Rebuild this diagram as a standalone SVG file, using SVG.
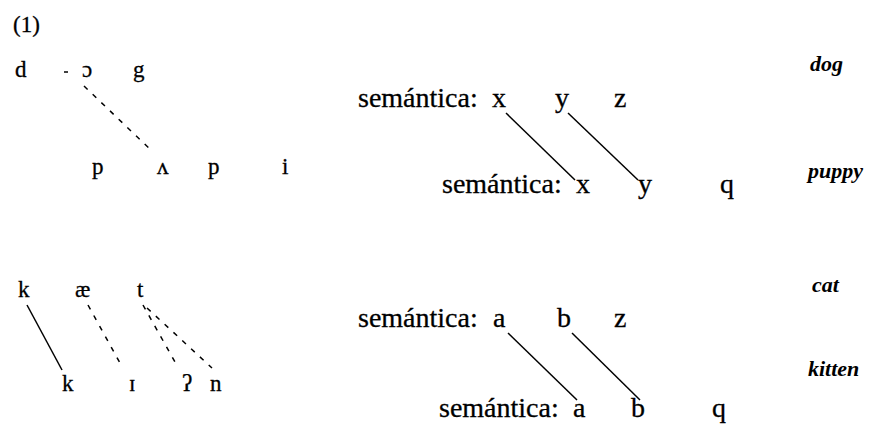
<svg xmlns="http://www.w3.org/2000/svg" width="877" height="426" viewBox="0 0 877 426">
<style>
.t{font-family:"Liberation Serif","DejaVu Serif",serif;font-size:23px;fill:#000;stroke:#000;stroke-width:0.3}
.sem{font-size:28px}
.gl{font-style:italic;font-weight:bold;font-size:22px;stroke-width:0}
.ln{stroke:#000;stroke-width:1.5;fill:none}
.ds{stroke-dasharray:5 7}
</style>
<rect width="877" height="426" fill="#fff"/>
<text id="label" class="t" x="13" y="32" font-size="22" stroke-width="0">(1)</text>
<g id="dog-phon" class="t">
<text x="15" y="77">d</text><text x="82" y="77">ɔ</text><text x="133" y="77">g</text>
</g>
<g id="puppy-phon" class="t">
<text x="92" y="174">p</text><text x="157" y="174">ʌ</text><text x="208" y="174">p</text><text x="282" y="174">i</text>
</g>
<g id="cat-phon" class="t">
<text x="18" y="297">k</text><text x="75" y="297">æ</text><text x="137" y="297">t</text>
</g>
<g id="kitten-phon" class="t">
<text x="62" y="391">k</text><text x="129" y="391">ɪ</text><text x="182" y="391">ʔ</text><text x="210" y="391">n</text>
</g>
<g id="sem-dog" class="t sem">
<text x="358" y="107">semántica:</text><text x="492" y="107">x</text><text x="555" y="107">y</text><text x="614" y="107">z</text>
</g>
<g id="sem-puppy" class="t sem">
<text x="442" y="193">semántica:</text><text x="576" y="193">x</text><text x="638" y="193">y</text><text x="720" y="193">q</text>
</g>
<g id="sem-cat" class="t sem">
<text x="358" y="327">semántica:</text><text x="493" y="327">a</text><text x="557" y="327">b</text><text x="614" y="327">z</text>
</g>
<g id="sem-kitten" class="t sem">
<text x="439" y="417">semántica:</text><text x="573" y="417">a</text><text x="631" y="417">b</text><text x="712" y="417">q</text>
</g>
<g id="glosses" class="t gl">
<text x="810" y="71">dog</text><text x="808" y="178">puppy</text><text x="812" y="292">cat</text><text x="808" y="376">kitten</text>
</g>
<g id="connectors">
<line class="ln" x1="64" y1="72" x2="68" y2="72" stroke-width="1"/>
<line class="ln ds" x1="84" y1="86" x2="153" y2="152"/>
<line class="ln" x1="27" y1="305" x2="62" y2="370"/>
<line class="ln ds" x1="88" y1="305" x2="120" y2="363"/>
<line class="ln ds" x1="143" y1="305" x2="175" y2="362"/>
<line class="ln ds" x1="147" y1="308" x2="212" y2="368"/>
<line class="ln" x1="506" y1="113" x2="575" y2="180"/>
<line class="ln" x1="568" y1="113" x2="638" y2="180"/>
<line class="ln" x1="508" y1="333" x2="577" y2="400"/>
<line class="ln" x1="572" y1="333" x2="640" y2="400"/>
</g>
</svg>
